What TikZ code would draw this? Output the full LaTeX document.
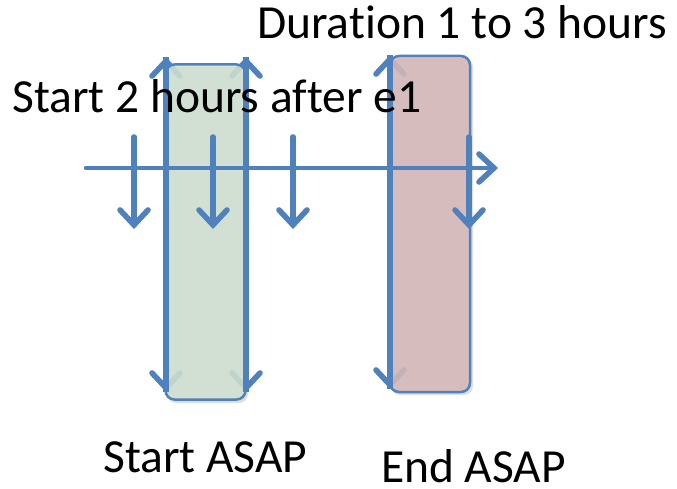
\documentclass[tikz,border=0pt]{standalone}
\usepackage{fontspec}
\setmainfont[Ligatures=NoCommon]{Carlito}
\usetikzlibrary{arrows.meta}
\definecolor{lineblue}{HTML}{4F81BD}
\definecolor{greenfill}{HTML}{CFE1D1}
\definecolor{redfill}{HTML}{D5B4B4}
\definecolor{shadowgray}{HTML}{BFBFBF}
\tikzset{
  tip/.tip={Straight Barb[length=15pt,width=28pt,line width=5.5pt,line cap=round]},
  arr/.style={line width=5.5pt,lineblue,line cap=round},
  shad/.style={line width=5.5pt,shadowgray,line cap=round,opacity=0.6},
  lbl/.style={font=\fontsize{47.5}{52}\selectfont,anchor=base west,inner sep=0pt,text=black},
  box/.style={draw=lineblue,line width=2.5pt,rounded corners=9pt,fill opacity=0.8}
}
\begin{document}
\begin{tikzpicture}[x=1pt,y=-1pt]
\useasboundingbox (0,0) rectangle (677,489);
% coordinates
\coordinate (hl) at (86,168);
\coordinate (hr) at (498,168);
\foreach \n/\x in {a/134,b/213,c/293,d/469}{
  \coordinate (\n t) at (\x,137);
  \coordinate (\n b) at (\x,229);
}
\coordinate (v1t) at (166,57); \coordinate (v1b) at (166,392);
\coordinate (v2t) at (246,57); \coordinate (v2b) at (246,392);
\coordinate (v3t) at (390,55); \coordinate (v3b) at (390,389);
% shadows
\begin{scope}[shift={(1.5,3)}]
  \draw[shad,{tip}-{tip}] (v1t) -- (v1b);
  \draw[shad,{tip}-{tip}] (v2t) -- (v2b);
  \draw[shad,{tip}-{tip}] (v3t) -- (v3b);
  \draw[shad,line width=4.5pt,-{tip}] (hl) -- (hr);
  \foreach \n in {a,b,c,d}{\draw[shad,-{tip}] (\n t) -- (\n b);}
\end{scope}
% vertical double arrows
\draw[arr,{tip}-{tip}] (v1t) -- (v1b);
\draw[arr,{tip}-{tip}] (v2t) -- (v2b);
\draw[arr,{tip}-{tip}] (v3t) -- (v3b);
% boxes
\fill[shadowgray,opacity=0.5,rounded corners=9pt] (167,67) rectangle (248,403);
\fill[shadowgray,opacity=0.5,rounded corners=9pt] (391,58) rectangle (473,395);
\node[box,fill=greenfill,minimum width=80pt,minimum height=335pt,inner sep=0pt] (g) at (205.5,232) {};
\node[box,fill=redfill,minimum width=80pt,minimum height=336pt,inner sep=0pt] (r) at (430,224) {};
% arrow shafts over box borders
\draw[lineblue,line width=5.5pt] (v1t) -- (v1b);
\draw[lineblue,line width=5.5pt] (v2t) -- (v2b);
\draw[lineblue,line width=5.5pt] (v3t) -- (v3b);
% timeline
\draw[arr,line width=4.5pt,-{tip}] (hl) -- (hr);
\foreach \n in {a,b,c,d}{\draw[arr,-{tip}] (\n t) -- (\n b);}
% labels
\node[lbl] (dur) at (257,39) {Duration 1 to 3 hours};
\node[lbl] (st2) at (12,113) {Start 2 hours after e1};
\node[lbl] (sasap) at (103,472) {Start ASAP};
\node[lbl] (easap) at (381,482) {End ASAP};
\end{tikzpicture}
\end{document}
